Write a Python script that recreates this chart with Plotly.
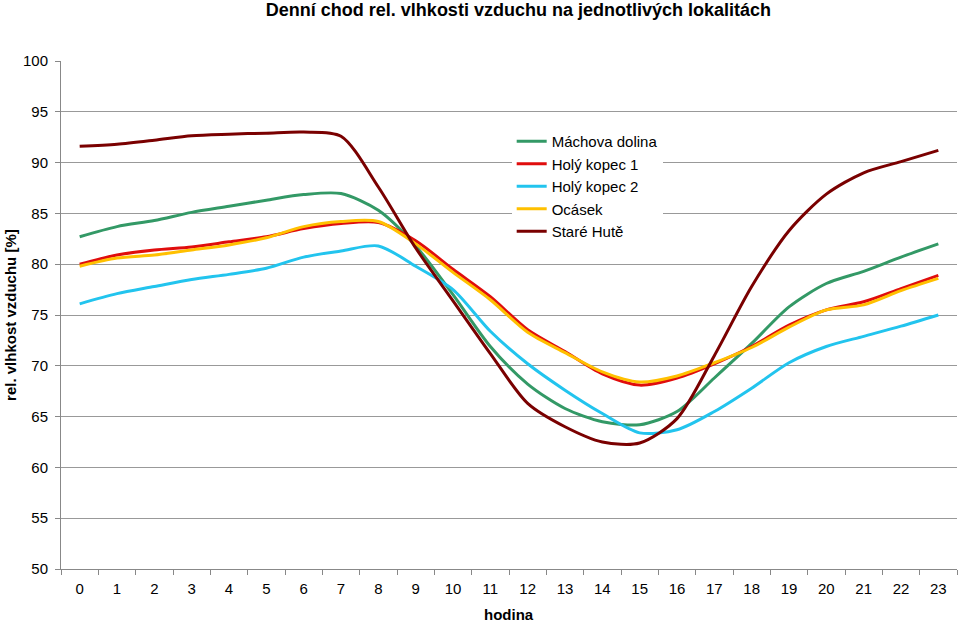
import plotly.graph_objects as go

hours = [str(h) for h in range(24)]

machova_dolina = [82.7, 83.7, 84.3, 85.1, 85.7, 86.3, 86.85, 86.95, 85.3, 81.8, 77.0, 71.9,
                  68.2, 65.8, 64.5, 64.2, 65.5, 68.8, 72.2, 75.8, 78.1, 79.3, 80.7, 82.0]
holy_kopec_1 = [80.0, 80.9, 81.4, 81.7, 82.2, 82.7, 83.5, 84.0, 84.1, 82.3, 79.5, 76.8,
                73.55, 71.4, 69.2, 68.1, 68.8, 70.2, 71.9, 74.0, 75.5, 76.3, 77.6, 78.9]
holy_kopec_2 = [76.1, 77.1, 77.8, 78.5, 79.0, 79.6, 80.7, 81.3, 81.8, 79.8, 77.5, 73.4,
                70.2, 67.6, 65.3, 63.4, 63.7, 65.5, 67.8, 70.3, 71.9, 72.9, 73.9, 75.0]
ocasek = [79.8, 80.6, 80.9, 81.4, 81.9, 82.6, 83.7, 84.2, 84.2, 82.0, 79.2, 76.5,
          73.3, 71.3, 69.4, 68.4, 69.0, 70.3, 71.8, 73.8, 75.5, 76.0, 77.4, 78.6]
stare_hute = [91.6, 91.8, 92.2, 92.65, 92.8, 92.9, 93.0, 92.6, 87.6, 81.6, 76.4, 71.2,
              66.3, 64.0, 62.5, 62.4, 64.8, 71.0, 77.8, 83.3, 86.9, 89.0, 90.1, 91.2]

series = [
    ("Máchova dolina", machova_dolina, "#339966"),
    ("Holý kopec 1", holy_kopec_1, "#e00d0d"),
    ("Holý kopec 2", holy_kopec_2, "#22c4ee"),
    ("Ocásek", ocasek, "#ffc000"),
    ("Staré Hutě", stare_hute, "#7a0000"),
]

FONT = "Arial, Liberation Sans, sans-serif"

fig = go.Figure()
for name, vals, color in series:
    fig.add_trace(go.Scatter(
        x=hours, y=vals, name=name, mode="lines",
        line=dict(color=color, width=3, shape="spline", smoothing=0.8),
        legendgroup=name,
    ))

fig.update_layout(
    width=960, height=622,
    margin=dict(l=61, r=3, t=61, b=53),
    paper_bgcolor="white", plot_bgcolor="white",
    font=dict(family=FONT, size=14, color="black"),
    title=dict(text="<b>Denní chod rel. vlhkosti vzduchu na jednotlivých lokalitách</b>",
               x=0.54, xref="container", xanchor="center",
               y=0.985, yref="container", yanchor="middle",
               font=dict(family=FONT, size=18, color="black")),
    showlegend=True,
    legend=dict(x=0.503, y=0.874, xanchor="left", yanchor="top",
                bgcolor="white", borderwidth=0,
                font=dict(family=FONT, size=15, color="black"),
                tracegroupgap=0, itemwidth=30),
    xaxis=dict(type="category", tickson="boundaries", ticks="outside", ticklen=5,
               tickcolor="#888888", showline=True, linecolor="#888888", linewidth=1,
               showgrid=False, range=[-0.5, 23.5], ticklabelstandoff=6,
               tickfont=dict(family=FONT, size=15, color="black")),
    yaxis=dict(range=[50, 100], dtick=5, tick0=50, ticks="outside", ticklen=5,
               tickcolor="#888888", showline=True, linecolor="#888888", linewidth=1,
               showgrid=True, gridcolor="#999999", gridwidth=1, zeroline=False,
               ticklabelstandoff=4,
               tickfont=dict(family=FONT, size=15, color="black")),
    annotations=[
        dict(text="<b>hodina</b>", xref="paper", yref="paper", x=0.5, y=-0.09,
             xanchor="center", yanchor="middle", showarrow=False,
             font=dict(family=FONT, size=15, color="black")),
        dict(text="<b>rel. vlhkost vzduchu [%]</b>", xref="paper", yref="paper",
             x=-0.057, y=0.5, xanchor="center", yanchor="middle", showarrow=False,
             textangle=-90, font=dict(family=FONT, size=15, color="black")),
    ],
)

fig.write_html("out.html",
               config={"displayModeBar": False},
               post_script="document.body.style.margin='0';document.body.style.overflow='hidden';")
